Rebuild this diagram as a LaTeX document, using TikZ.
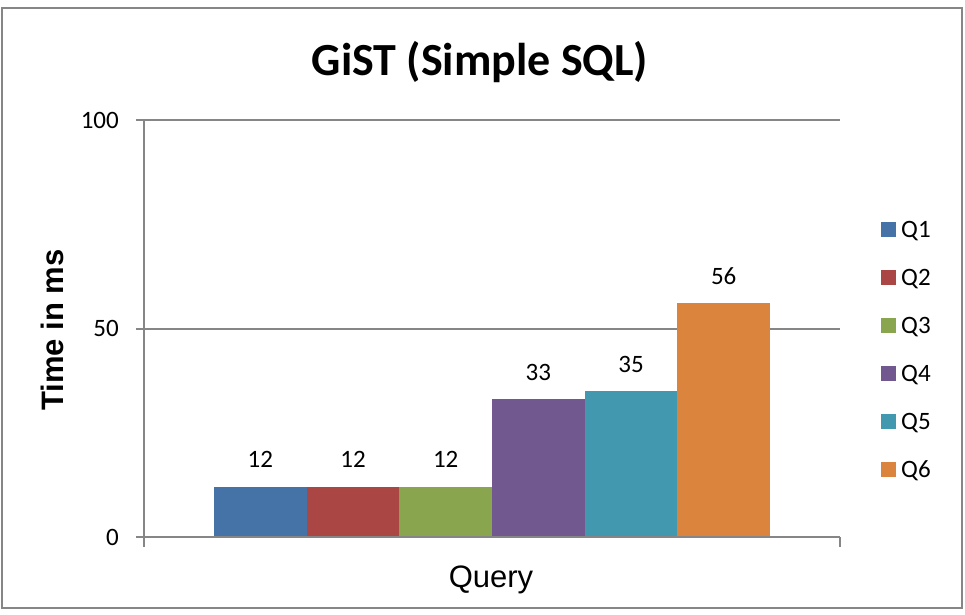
\documentclass[tikz,border=0pt]{standalone}
\usepackage{fontspec}
\setmainfont{Carlito}
\newfontfamily\arialfont{Liberation Sans}

\definecolor{gridgray}{HTML}{868686}
\definecolor{qone}{HTML}{4572A7}
\definecolor{qtwo}{HTML}{AA4643}
\definecolor{qthree}{HTML}{89A54E}
\definecolor{qfour}{HTML}{71588F}
\definecolor{qfive}{HTML}{4198AF}
\definecolor{qsix}{HTML}{DB843D}

\tikzset{
  frame/.style={draw=gridgray, line width=2pt},
  gridline/.style={draw=gridgray, line width=2pt},
  axisline/.style={draw=gridgray, line width=2.6pt},
  numlabel/.style={font=\fontsize{25}{30}\selectfont, inner sep=0pt},
  ticklabel/.style={numlabel, anchor=base east},
  datalabel/.style={numlabel, anchor=base},
  legendtext/.style={numlabel, anchor=base west},
  swatch/.style={inner sep=0pt, minimum size=15pt, draw=none},
}

\newcommand{\ypos}[1]{537-#1*4.17}

\begin{document}
\begin{tikzpicture}[x=1pt,y=-1pt]
\useasboundingbox (0,0) rectangle (965,614);

% chart frame
\draw[frame] (1.5,8) rectangle (962,608);

% title
\node[anchor=base, inner sep=0pt, font=\fontsize{46}{54}\selectfont\bfseries] (title) at (480,75) {GiST (Simple SQL)};

% grid lines and ticks
\draw[gridline] (136,120) -- (840,120);
\draw[gridline] (136,{\ypos{50}}) -- (840,{\ypos{50}});
% axes
\draw[axisline] (144,120) -- (144,547);
\draw[axisline] (136,537) -- (840,537);
\draw[gridline] (840,537) -- (840,547);

% tick labels
\node[ticklabel] (t100) at (119,128) {100};
\node[ticklabel] (t50) at (119,{\ypos{50}+8}) {50};
\node[ticklabel] (t0) at (119,545) {0};

% bars
\fill[qone]   (214,537)   rectangle (306.7,{\ypos{12}});
\fill[qtwo]   (306.7,537) rectangle (399.3,{\ypos{12}});
\fill[qthree] (399.3,537) rectangle (492,{\ypos{12}});
\fill[qfour]  (492,537)   rectangle (584.7,{\ypos{33}});
\fill[qfive]  (584.7,537) rectangle (677.3,{\ypos{35}});
\fill[qsix]   (677.3,537) rectangle (770,{\ypos{56}});
\draw[axisline] (136,537) -- (840,537);

% data labels
\node[datalabel] (v1) at (260.3,{\ypos{12}-19}) {12};
\node[datalabel] (v2) at (353,{\ypos{12}-19}) {12};
\node[datalabel] (v3) at (445.7,{\ypos{12}-19}) {12};
\node[datalabel] (v4) at (538.3,{\ypos{33}-19}) {33};
\node[datalabel] (v5) at (631,{\ypos{35}-19}) {35};
\node[datalabel] (v6) at (723.7,{\ypos{56}-19}) {56};

% axis titles
\node[anchor=base, inner sep=0pt, font=\arialfont\fontsize{31}{36}\selectfont\bfseries, rotate=90] (ytitle) at (63,330) {Time in ms};
\node[anchor=base, inner sep=0pt, font=\arialfont\fontsize{31}{36}\selectfont] (xtitle) at (491,587) {Query};

% legend
\foreach \c/\t [count=\i from 0] in {qone/Q1,qtwo/Q2,qthree/Q3,qfour/Q4,qfive/Q5,qsix/Q6}{
  \node[swatch, fill=\c] (sw\i) at (888.5,{229.5+48*\i}) {};
  \node[legendtext] (lg\i) at (901,{237+48*\i}) {\t};
}
\end{tikzpicture}
\end{document}
